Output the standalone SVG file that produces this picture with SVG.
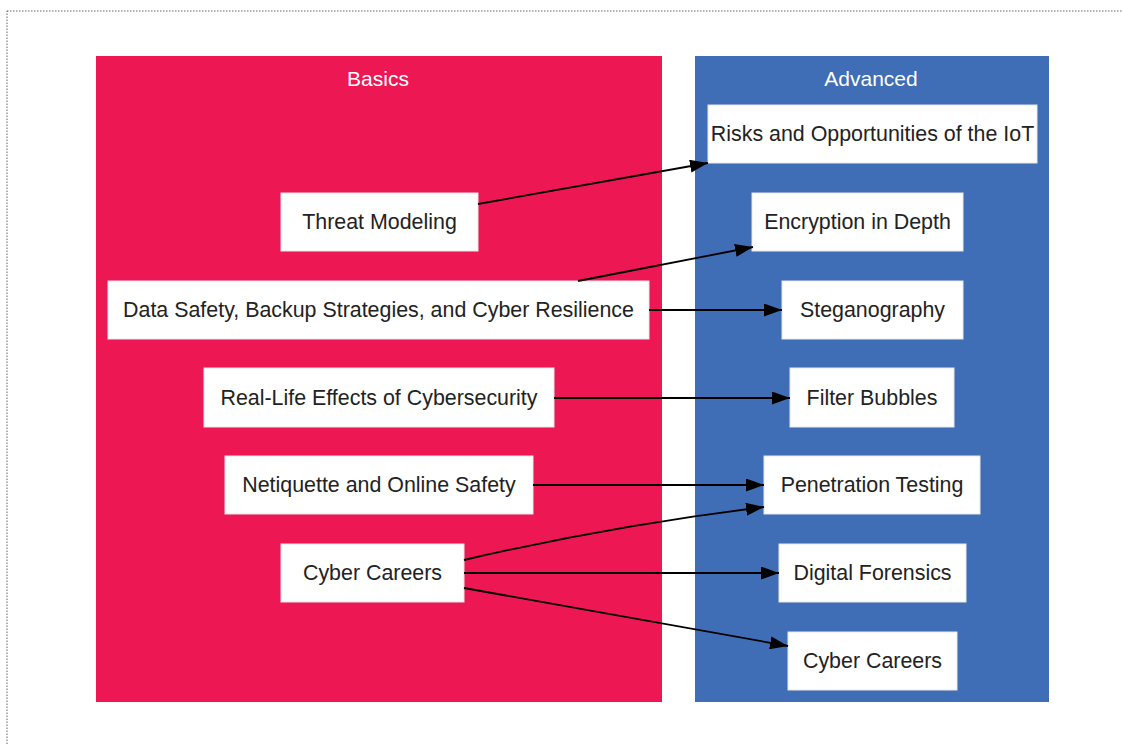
<svg xmlns="http://www.w3.org/2000/svg" width="1122" height="744" viewBox="0 0 1122 744">
<style>
.node rect{fill:#ffffff;stroke:#e8e8e8;stroke-width:1}
.node text{font-family:"Liberation Sans",Arial,sans-serif;font-size:21.4px;fill:#222222;text-anchor:middle;dominant-baseline:central}
.title{font-family:"Liberation Sans",Arial,sans-serif;font-size:21px;fill:#ffffff;text-anchor:middle}
.edge{stroke:#000000;stroke-width:1.8;fill:none;marker-end:url(#arrow)}
</style>
<defs>
<marker id="arrow" markerWidth="18" markerHeight="13" refX="18" refY="6.5" orient="auto" markerUnits="userSpaceOnUse">
<path d="M0,0 L18,6.5 L0,13 Z" fill="#000000"/>
</marker>
</defs>
<rect x="0" y="0" width="1122" height="744" fill="#ffffff"/>
<rect x="7" y="11" width="1130" height="750" fill="none" stroke="#666666" stroke-width="1" stroke-dasharray="1.5,1.5"/>
<g id="basics">
<rect x="96" y="56" width="566" height="646" fill="#ED1753"/>
<text class="title" x="378" y="86">Basics</text>
</g>
<g id="advanced">
<rect x="695" y="56" width="354" height="646" fill="#3F6DB6"/>
<text class="title" x="871" y="86">Advanced</text>
</g>
<g id="n-threat" class="node"><rect x="281" y="193" width="197" height="58"/><text x="379.5" y="222">Threat Modeling</text></g>
<g id="n-datasafety" class="node"><rect x="108" y="281" width="541" height="58"/><text x="378.5" y="310">Data Safety, Backup Strategies, and Cyber Resilience</text></g>
<g id="n-reallife" class="node"><rect x="204" y="368" width="350" height="59"/><text x="379" y="397.5">Real-Life Effects of Cybersecurity</text></g>
<g id="n-netiquette" class="node"><rect x="225" y="456" width="308" height="58"/><text x="379" y="485">Netiquette and Online Safety</text></g>
<g id="n-careers-basic" class="node"><rect x="281" y="544" width="183" height="58"/><text x="372.5" y="573">Cyber Careers</text></g>
<g id="n-iot" class="node"><rect x="708" y="105" width="329" height="58"/><text x="872.5" y="134">Risks and Opportunities of the IoT</text></g>
<g id="n-encryption" class="node"><rect x="752" y="193" width="211" height="58"/><text x="857.5" y="222">Encryption in Depth</text></g>
<g id="n-stego" class="node"><rect x="782" y="281" width="181" height="58"/><text x="872.5" y="310">Steganography</text></g>
<g id="n-filter" class="node"><rect x="790" y="368" width="164" height="59"/><text x="872" y="397.5">Filter Bubbles</text></g>
<g id="n-pentest" class="node"><rect x="764" y="456" width="216" height="58"/><text x="872" y="485">Penetration Testing</text></g>
<g id="n-forensics" class="node"><rect x="779" y="544" width="187" height="58"/><text x="872.5" y="573">Digital Forensics</text></g>
<g id="n-careers-adv" class="node"><rect x="788" y="632" width="169" height="58"/><text x="872.5" y="661">Cyber Careers</text></g>
<g id="connectors">
<path class="edge" d="M478,204 L708,163"/>
<path class="edge" d="M578,281 L753,247"/>
<path class="edge" d="M649,310 L782,310"/>
<path class="edge" d="M554,398 L790,398"/>
<path class="edge" d="M533,485 L764,485"/>
<path class="edge" d="M464,560 Q610,526 764,507"/>
<path class="edge" d="M464,573 L779,573"/>
<path class="edge" d="M464,588 L788,646"/>
</g>
</svg>
